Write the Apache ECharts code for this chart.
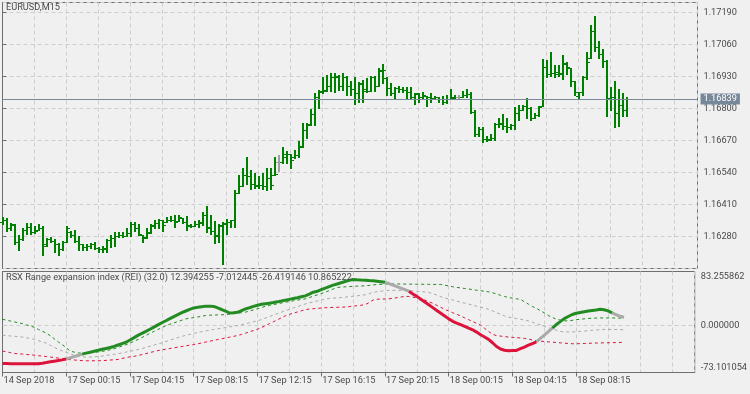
<!DOCTYPE html>
<html><head><meta charset="utf-8">
<script src="https://cdn.jsdelivr.net/npm/echarts@6/dist/echarts.min.js"></script>
<style>html,body{margin:0;padding:0;background:#f0f0f0;}#c{width:750px;height:394px;}</style>
</head><body><div id="c"></div>
<script>
const symbolName = 'EURUSD,M15';
const indicatorName = 'RSX Range expansion index (REI) (32.0)';
const currentPrice = 1.16839;

const barOpen = [
1.16337,1.16349,1.16313,1.16325,1.16256,1.16268,1.16308,1.16317,1.16300,1.16308,
1.16313,1.16248,1.16268,1.16260,1.16248,1.16231,1.16256,1.16300,1.16288,1.16260,
1.16248,1.16239,1.16243,1.16248,1.16235,1.16231,1.16231,1.16264,1.16272,1.16280,
1.16288,1.16284,1.16296,1.16329,1.16313,1.16288,1.16276,1.16300,1.16321,1.16333,
1.16345,1.16337,1.16345,1.16349,1.16341,1.16357,1.16337,1.16325,1.16321,1.16329,
1.16333,1.16369,1.16317,1.16304,1.16288,1.16321,1.16329,1.16337,1.16345,1.16455,
1.16487,1.16528,1.16524,1.16495,1.16487,1.16491,1.16487,1.16516,1.16528,1.16581,
1.16581,1.16605,1.16617,1.16601,1.16613,1.16646,1.16711,1.16735,1.16776,1.16845,
1.16869,1.16877,1.16893,1.16926,1.16930,1.16893,1.16930,1.16893,1.16881,1.16861,
1.16898,1.16881,1.16873,1.16930,1.16893,1.16954,1.16922,1.16885,1.16865,1.16885,
1.16881,1.16877,1.16869,1.16845,1.16857,1.16845,1.16849,1.16845,1.16841,1.16845,
1.16837,1.16828,1.16837,1.16841,1.16845,1.16845,1.16853,1.16857,1.16784,1.16698,
1.16715,1.16678,1.16678,1.16682,1.16739,1.16739,1.16727,1.16723,1.16731,1.16780,
1.16792,1.16812,1.16804,1.16763,1.16772,1.16812,1.16967,1.16942,1.16946,1.16950,
1.16942,1.16979,1.16963,1.16910,1.16849,1.16869,1.16926,1.17007,1.17113,1.17048,
1.17023,1.16995,1.16841,1.16845,1.16780,1.16816,1.16792];
const barHigh = [
1.16361,1.16357,1.16333,1.16329,1.16288,1.16313,1.16333,1.16333,1.16321,1.16329,
1.16321,1.16272,1.16276,1.16268,1.16252,1.16260,1.16321,1.16304,1.16308,1.16284,
1.16248,1.16248,1.16252,1.16256,1.16239,1.16243,1.16268,1.16288,1.16300,1.16300,
1.16300,1.16313,1.16337,1.16337,1.16329,1.16288,1.16313,1.16329,1.16349,1.16353,
1.16349,1.16361,1.16365,1.16369,1.16369,1.16357,1.16365,1.16329,1.16341,1.16349,
1.16378,1.16402,1.16369,1.16341,1.16329,1.16337,1.16353,1.16349,1.16467,1.16528,
1.16560,1.16605,1.16552,1.16536,1.16524,1.16536,1.16560,1.16560,1.16601,1.16613,
1.16642,1.16629,1.16617,1.16633,1.16666,1.16743,1.16743,1.16796,1.16861,1.16877,
1.16926,1.16938,1.16946,1.16946,1.16938,1.16946,1.16934,1.16910,1.16930,1.16906,
1.16914,1.16922,1.16934,1.16934,1.16963,1.16979,1.16926,1.16902,1.16889,1.16893,
1.16889,1.16889,1.16889,1.16861,1.16861,1.16869,1.16849,1.16861,1.16849,1.16845,
1.16849,1.16853,1.16881,1.16853,1.16853,1.16873,1.16881,1.16869,1.16792,1.16723,
1.16723,1.16690,1.16698,1.16743,1.16763,1.16776,1.16763,1.16739,1.16808,1.16816,
1.16816,1.16841,1.16808,1.16780,1.16812,1.17003,1.16999,1.17028,1.16975,1.16975,
1.17019,1.16987,1.16963,1.16910,1.16869,1.16934,1.17028,1.17141,1.17174,1.17076,
1.17040,1.16999,1.16889,1.16910,1.16881,1.16861,1.16845];
const barLow = [
1.16329,1.16304,1.16308,1.16248,1.16227,1.16264,1.16292,1.16292,1.16296,1.16308,
1.16203,1.16243,1.16256,1.16219,1.16203,1.16227,1.16256,1.16276,1.16256,1.16227,
1.16227,1.16227,1.16235,1.16231,1.16215,1.16219,1.16219,1.16239,1.16243,1.16276,
1.16276,1.16280,1.16280,1.16304,1.16288,1.16256,1.16272,1.16296,1.16313,1.16313,
1.16304,1.16337,1.16341,1.16317,1.16341,1.16333,1.16308,1.16317,1.16321,1.16317,
1.16325,1.16300,1.16292,1.16252,1.16256,1.16170,1.16292,1.16317,1.16317,1.16455,
1.16487,1.16495,1.16471,1.16479,1.16479,1.16471,1.16467,1.16475,1.16528,1.16548,
1.16577,1.16577,1.16560,1.16597,1.16601,1.16642,1.16682,1.16731,1.16731,1.16804,
1.16861,1.16873,1.16873,1.16869,1.16877,1.16877,1.16853,1.16853,1.16820,1.16828,
1.16828,1.16869,1.16873,1.16873,1.16893,1.16902,1.16853,1.16853,1.16837,1.16869,
1.16869,1.16841,1.16841,1.16820,1.16828,1.16841,1.16812,1.16828,1.16837,1.16828,
1.16820,1.16824,1.16837,1.16837,1.16841,1.16845,1.16845,1.16780,1.16690,1.16690,
1.16662,1.16666,1.16670,1.16674,1.16723,1.16715,1.16703,1.16715,1.16715,1.16755,
1.16792,1.16763,1.16755,1.16763,1.16768,1.16812,1.16930,1.16934,1.16926,1.16934,
1.16918,1.16942,1.16893,1.16853,1.16841,1.16853,1.16918,1.17007,1.17032,1.17007,
1.16967,1.16768,1.16792,1.16723,1.16727,1.16768,1.16768];
const barClose = [
1.16349,1.16313,1.16329,1.16256,1.16268,1.16308,1.16317,1.16300,1.16304,1.16313,
1.16243,1.16268,1.16260,1.16248,1.16231,1.16256,1.16313,1.16288,1.16260,1.16248,
1.16239,1.16243,1.16248,1.16235,1.16231,1.16235,1.16264,1.16272,1.16280,1.16288,
1.16284,1.16296,1.16329,1.16313,1.16292,1.16272,1.16296,1.16325,1.16333,1.16345,
1.16325,1.16345,1.16349,1.16337,1.16361,1.16337,1.16321,1.16321,1.16329,1.16337,
1.16369,1.16313,1.16304,1.16284,1.16325,1.16333,1.16337,1.16345,1.16455,1.16487,
1.16528,1.16524,1.16495,1.16491,1.16491,1.16487,1.16516,1.16491,1.16532,1.16581,
1.16617,1.16617,1.16589,1.16613,1.16642,1.16711,1.16731,1.16776,1.16845,1.16873,
1.16873,1.16893,1.16930,1.16934,1.16893,1.16930,1.16893,1.16881,1.16861,1.16902,
1.16873,1.16873,1.16930,1.16893,1.16958,1.16958,1.16885,1.16865,1.16885,1.16881,
1.16877,1.16869,1.16845,1.16861,1.16845,1.16853,1.16845,1.16841,1.16845,1.16837,
1.16828,1.16837,1.16845,1.16845,1.16845,1.16853,1.16857,1.16784,1.16698,1.16715,
1.16678,1.16674,1.16682,1.16739,1.16743,1.16727,1.16723,1.16731,1.16780,1.16792,
1.16812,1.16804,1.16763,1.16772,1.16808,1.16967,1.16942,1.16946,1.16942,1.16946,
1.16983,1.16967,1.16910,1.16869,1.16869,1.16926,1.16987,1.17113,1.17048,1.17023,
1.16995,1.16841,1.16845,1.16780,1.16816,1.16792,1.16839];

const reiMain = [
-59.23,-59.23,-59.38,-59.38,-59.38,-59.54,-59.54,-59.54,-59.54,-59.54,
-58.62,-57.69,-56.61,-55.53,-54.61,-53.53,-52.30,-50.30,-48.45,-46.45,
-44.60,-43.06,-41.67,-40.13,-38.75,-37.21,-35.82,-34.43,-32.74,-30.58,
-28.42,-26.27,-22.88,-19.18,-15.64,-12.40,-9.32,-6.09,-2.85,0.69,
3.93,7.01,10.24,13.48,16.56,19.49,22.10,24.72,26.88,27.80,
28.73,29.65,29.65,29.19,26.88,24.41,21.80,19.02,19.33,20.10,
22.72,25.34,27.19,29.19,31.04,32.42,33.35,34.27,35.20,36.27,
37.51,38.89,40.13,41.36,42.74,44.13,45.52,48.29,51.21,52.60,
55.22,57.53,59.84,62.15,64.00,65.85,67.70,69.55,70.93,70.47,
70.16,69.86,69.24,68.78,68.01,67.24,66.47,64.62,62.15,59.84,
57.53,55.22,52.76,48.44,44.75,40.43,36.12,31.65,27.34,23.03,
18.71,14.25,9.93,6.08,3.31,1.00,-1.62,-4.39,-7.01,-10.55,
-14.56,-18.10,-21.80,-27.03,-32.89,-36.74,-38.59,-39.52,-39.21,-38.90,
-36.28,-33.66,-30.89,-28.27,-25.65,-20.41,-15.33,-9.94,-4.39,1.15,
5.62,10.24,13.63,16.71,18.56,19.79,21.02,22.10,23.03,23.80,
24.72,24.10,22.26,19.33,16.56,13.94,12.394255];
const reiMiddle = [
-15.33,-15.95,-16.56,-17.02,-17.64,-18.26,-19.33,-20.57,-21.95,-23.80,
-25.80,-27.65,-31.04,-34.12,-37.36,-39.67,-41.98,-44.29,-46.45,-47.52,
-48.60,-49.53,-49.22,-48.76,-48.45,-47.68,-46.75,-45.83,-44.91,-43.98,
-42.90,-41.52,-40.28,-38.90,-37.51,-35.97,-34.28,-32.43,-30.73,-29.04,
-27.19,-25.19,-23.03,-21.03,-19.03,-17.18,-15.64,-14.10,-12.56,-11.01,
-9.78,-8.71,-7.63,-6.55,-5.47,-4.55,-3.47,-2.55,-1.47,-0.39,
0.84,2.38,3.93,5.47,7.01,8.85,11.17,13.48,15.79,18.10,
20.25,22.56,24.72,26.88,28.88,30.88,33.04,34.58,36.12,37.66,
39.20,40.74,41.51,41.97,42.44,42.90,43.51,44.28,45.05,45.67,
46.44,47.21,48.75,50.91,51.99,52.76,53.53,53.99,53.99,53.99,
53.99,53.99,53.68,53.22,52.60,52.14,51.68,50.91,48.91,46.90,
44.28,42.28,40.74,39.20,37.35,35.81,34.27,32.73,31.19,29.65,
28.11,26.57,24.72,22.26,19.64,17.17,14.56,12.55,11.47,10.40,
9.32,8.24,6.85,4.85,2.54,0.53,-1.47,-3.93,-5.78,-7.63,
-9.48,-10.25,-10.25,-10.25,-9.94,-9.48,-9.01,-8.40,-7.78,-7.32,
-6.86,-6.39,-6.24,-6.39,-6.55,-6.70,-7.012445];
const reiLower = [
-39.98,-41.05,-42.44,-43.67,-44.14,-44.60,-45.21,-45.68,-46.29,-47.06,
-47.68,-48.45,-49.22,-49.99,-50.76,-51.68,-52.61,-53.22,-53.68,-54.30,
-54.76,-54.92,-54.92,-54.92,-54.92,-54.76,-54.30,-53.84,-53.38,-52.92,
-51.38,-50.14,-48.76,-48.14,-46.75,-45.37,-43.83,-42.29,-40.75,-39.21,
-38.13,-37.05,-35.97,-35.05,-33.82,-32.89,-31.81,-30.73,-29.81,-28.58,
-27.35,-25.96,-24.73,-23.34,-22.11,-20.87,-19.64,-18.41,-17.18,-15.79,
-14.25,-12.25,-10.09,-8.09,-6.09,-3.62,-0.54,2.54,5.47,8.55,
11.63,14.71,16.87,18.71,20.56,22.41,24.26,25.03,25.65,26.11,
26.72,27.19,27.49,27.65,27.80,28.11,28.26,28.88,29.65,30.27,
31.04,31.81,35.04,39.05,40.28,40.59,40.74,41.05,41.67,42.74,
43.67,44.75,44.59,43.51,42.28,41.20,38.89,36.43,34.12,30.88,
27.80,24.57,22.10,19.49,17.02,14.40,11.47,8.70,5.77,3.00,
0.08,-4.70,-9.48,-14.10,-15.95,-16.72,-17.49,-18.26,-18.72,-19.18,
-19.64,-20.26,-21.34,-22.72,-23.96,-24.57,-25.19,-25.65,-26.11,-26.73,
-27.19,-27.65,-28.11,-28.58,-28.58,-28.42,-28.11,-27.96,-27.65,-27.50,
-27.35,-27.19,-27.03,-26.88,-26.73,-26.57,-26.419146];
const reiUpper = [
9.32,7.93,6.54,5.16,3.77,2.69,0.84,-1.16,-3.16,-6.39,
-9.32,-12.09,-16.26,-21.03,-25.80,-29.96,-34.74,-39.98,-41.52,-42.75,
-43.36,-42.90,-42.29,-41.82,-41.36,-40.44,-39.21,-37.97,-36.43,-34.28,
-32.12,-30.12,-27.65,-24.73,-21.95,-18.87,-15.79,-12.56,-9.48,-6.55,
-3.62,-0.70,1.61,3.62,5.77,7.78,9.93,10.86,11.94,12.86,
13.94,15.17,15.63,15.79,16.10,16.25,16.56,17.17,17.94,18.71,
19.49,20.41,21.95,23.80,25.65,27.49,29.34,30.73,31.96,33.19,
34.42,35.66,36.74,37.81,38.89,39.97,40.89,42.90,44.90,47.06,
49.06,51.06,53.68,56.15,58.46,59.22,59.53,59.84,60.30,60.61,
60.77,61.07,61.69,62.46,63.08,63.38,63.69,63.85,64.00,64.00,
63.85,63.85,63.69,63.69,63.54,63.54,63.38,63.38,63.23,63.23,
63.23,62.00,60.92,59.69,58.61,57.84,56.92,56.15,55.22,54.30,
53.53,52.60,51.83,50.29,48.44,46.44,44.59,43.05,41.97,41.05,
40.13,36.43,32.73,29.03,26.26,22.72,19.18,15.17,12.24,9.32,
8.09,6.85,6.85,7.62,8.70,9.32,9.93,10.55,10.86,11.17,
11.32,11.32,11.32,11.32,11.17,11.17,10.865222];
// colour state of the main REI line, as [first bar, state]
const reiColorRuns = [[0,'down'],[16,'flat'],[20,'up'],[96,'flat'],[102,'down'],[134,'flat'],[138,'up'],[153,'flat']];
const reiMax = 83.255862, reiMin = -73.101054;

const timeLabelBars = [0,16,32,48,64,80,96,112,128,144];
const timeLabels = ['14 Sep 2018','17 Sep 00:15','17 Sep 04:15','17 Sep 08:15','17 Sep 12:15','17 Sep 16:15','17 Sep 20:15','18 Sep 00:15','18 Sep 04:15','18 Sep 08:15'];

const FONT = 'Roboto';
const TXT = '#4a4a4a';
const BORDER = '#6e6e6e';
const GRIDC = '#cdcdcd';
const BAR = '#008000', DOJI = '#a0a0a0';
const C_UP = '#228b22', C_DN = '#dc143c', C_FLAT = '#a9a9a9';
const XMAX = 173.75;

const chart = echarts.init(document.getElementById('c'), null, {renderer:'canvas'});

function renderOhlc(params, api){
  const i = api.value(0);
  const pO = api.coord([i, api.value(1)]);
  const pH = api.coord([i, api.value(2)]);
  const pL = api.coord([i, api.value(3)]);
  const pC = api.coord([i, api.value(4)]);
  const x = Math.floor(pO[0]);
  const col = api.value(1) === api.value(4) ? DOJI : BAR;
  const yH = Math.round(pH[1]), yL = Math.round(pL[1]), yO = Math.round(pO[1]), yC = Math.round(pC[1]);
  return {type:'group', children:[
    {type:'rect', shape:{x:x, y:yH, width:2, height:Math.max(1, yL - yH + 1)}, style:{fill:col}},
    {type:'rect', shape:{x:x-2, y:yO, width:2, height:1}, style:{fill:col}},
    {type:'rect', shape:{x:x+2, y:yC, width:2, height:1}, style:{fill:col}}
  ]};
}

function stateAt(i){ let s = reiColorRuns[0][1]; for (const r of reiColorRuns) if (i >= r[0]) s = r[1]; return s; }
function mainPart(state){
  return reiMain.map((v,i) => (stateAt(i) === state || (i > 0 && stateAt(i-1) === state)) ? [i, v] : [i, null]);
}
const pairs = arr => arr.map((v,i) => [i, v]);

const header = indicatorName + ' ' + [reiMain, reiMiddle, reiLower, reiUpper].map(a => a[a.length-1].toFixed(6)).join(' ');

const dashLine = (color) => ({type:'line', xAxisIndex:1, yAxisIndex:1, showSymbol:false, silent:true, z:2,
  lineStyle:{color:color, width:1, type:[3,3]}});

const option = {
  animation:false,
  backgroundColor:'#f0f0f0',
  textStyle:{fontFamily:FONT},
  title:[
    {text:symbolName, left:6, top:3.5, padding:0, textStyle:{fontSize:9.2, fontWeight:'normal', color:TXT, fontFamily:FONT}},
    {text:header, left:6, top:273.5, padding:0, textStyle:{fontSize:9.2, fontWeight:'normal', color:TXT, fontFamily:FONT}}
  ],
  grid:[
    {left:2.5, top:2.5, width:695, height:266, show:true, borderColor:BORDER, borderWidth:1, backgroundColor:'transparent'},
    {left:2.5, top:271.5, width:695, height:101, show:true, borderColor:BORDER, borderWidth:1, backgroundColor:'transparent'}
  ],
  xAxis:[
    {gridIndex:0, type:'value', position:'bottom', min:0, max:XMAX, interval:8,
     axisLine:{show:false}, axisTick:{show:false}, axisLabel:{show:false},
     splitLine:{show:true, lineStyle:{color:GRIDC, type:[4,3]}}},
    {gridIndex:1, type:'value', position:'bottom', min:0, max:XMAX, interval:8,
     axisLine:{show:false}, axisTick:{show:false}, axisLabel:{show:false},
     splitLine:{show:true, lineStyle:{color:GRIDC, type:[4,3]}}},
    {gridIndex:1, type:'value', position:'bottom', min:0, max:XMAX,
     axisLine:{show:true, lineStyle:{color:BORDER}},
     axisTick:{show:true, length:4, customValues:timeLabelBars, lineStyle:{color:BORDER}},
     axisLabel:{show:true, customValues:timeLabelBars, align:'left', margin:4, padding:[0,0,0,1],
       fontSize:9.2, color:TXT, fontFamily:FONT,
       formatter:(v) => { const k = timeLabelBars.indexOf(v); return k >= 0 ? timeLabels[k] : ''; }},
     splitLine:{show:false}}
  ],
  yAxis:[
    {gridIndex:0, type:'value', position:'right', min:1.1615, max:1.17230625, interval:0.0013,
     axisLine:{show:true, lineStyle:{color:BORDER}},
     axisTick:{show:true, length:4, lineStyle:{color:BORDER}},
     axisLabel:{margin:6, fontSize:9.2, color:TXT, fontFamily:FONT, showMinLabel:false, showMaxLabel:false,
       formatter:(v) => v.toFixed(5)},
     splitLine:{show:true, lineStyle:{color:GRIDC, type:[4,3]}}},
    {gridIndex:1, type:'value', position:'right', min:reiMin, max:reiMax,
     axisLine:{show:true, lineStyle:{color:BORDER}},
     axisTick:{show:true, length:4, customValues:[reiMax, 0, reiMin], lineStyle:{color:BORDER}},
     axisLabel:{margin:6, fontSize:9.2, color:TXT, fontFamily:FONT, customValues:[reiMax, 0, reiMin],
       formatter:(v) => {
         const s = v.toFixed(6);
         if (Math.abs(v - reiMax) < 1e-6) return '{t|' + s + '}';
         if (Math.abs(v - reiMin) < 1e-6) return '{b|' + s + '}';
         return '{m|' + s + '}';
       },
       rich:{t:{padding:[10,0,0,0], fontSize:9.2, color:TXT, fontFamily:FONT},
             b:{padding:[0,0,9,0], fontSize:9.2, color:TXT, fontFamily:FONT},
             m:{fontSize:9.2, color:TXT, fontFamily:FONT}}},
     splitLine:{show:false}}
  ],
  series:[
    {type:'line', name:'price-level', xAxisIndex:0, yAxisIndex:0, z:1, silent:true, data:[],
     markLine:{silent:true, symbol:['none','none'], animation:false, precision:5,
       data:[{yAxis:currentPrice}],
       lineStyle:{color:'#778899', width:1, type:'solid'},
       emphasis:{disabled:true},
       label:{show:true, position:'end', distance:3, formatter:() => currentPrice.toFixed(5),
         backgroundColor:'#778899', color:'#ffffff', padding:[1,3,0,3], lineHeight:10, fontSize:9.2, fontFamily:FONT}}},
    {type:'custom', name:'EURUSD', xAxisIndex:0, yAxisIndex:0, z:3, silent:true,
     renderItem:renderOhlc,
     encode:{x:0, y:[1,2,3,4]},
     data: barOpen.map((o,i) => [i, o, barHigh[i], barLow[i], barClose[i]])},
    Object.assign(dashLine(C_UP), {name:'upper', data:pairs(reiUpper)}),
    Object.assign(dashLine(C_FLAT), {name:'middle', data:pairs(reiMiddle),
      markLine:{silent:true, z:1, symbol:['none','none'], animation:false, precision:6, label:{show:false},
        emphasis:{disabled:true},
        data:[{yAxis:0}], lineStyle:{color:GRIDC, width:1, type:[4,3]}}}),
    Object.assign(dashLine(C_DN), {name:'lower', data:pairs(reiLower)}),
    {type:'line', name:'main-flat', xAxisIndex:1, yAxisIndex:1, showSymbol:false, silent:true, z:3,
     connectNulls:false, lineStyle:{color:C_FLAT, width:3}, data:mainPart('flat')},
    {type:'line', name:'main-down', xAxisIndex:1, yAxisIndex:1, showSymbol:false, silent:true, z:3,
     connectNulls:false, lineStyle:{color:C_DN, width:3}, data:mainPart('down')},
    {type:'line', name:'main-up', xAxisIndex:1, yAxisIndex:1, showSymbol:false, silent:true, z:3,
     connectNulls:false, lineStyle:{color:C_UP, width:3}, data:mainPart('up')}
  ]
};
chart.setOption(option);
</script>
</body></html>
